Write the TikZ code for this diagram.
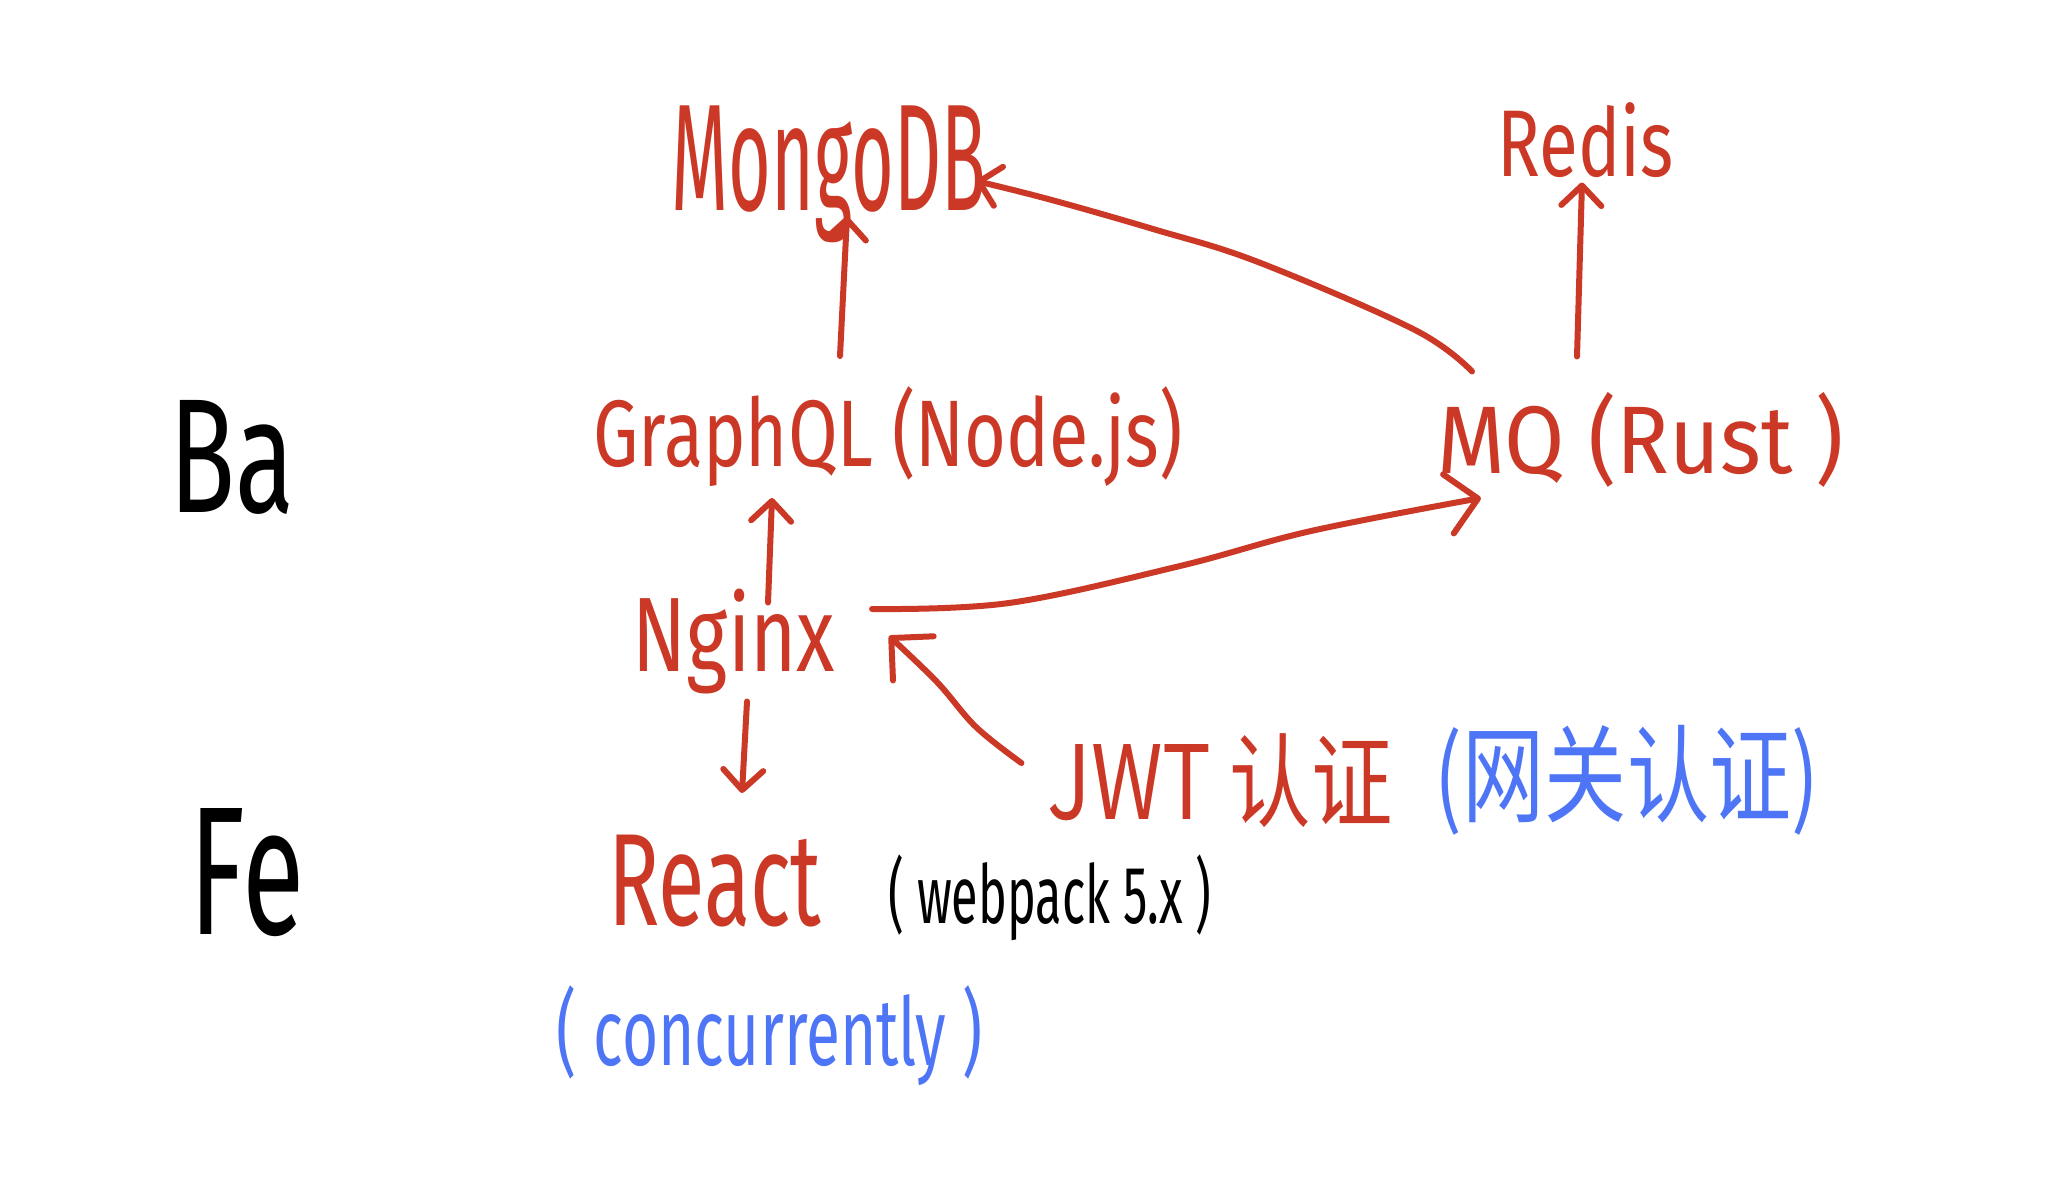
\documentclass[tikz,border=0pt]{standalone}
\usepackage{fontspec}
\usepackage{graphicx}
\setmainfont{Fira Sans}
\newfontfamily\cjk{Noto Sans CJK SC}
\usetikzlibrary{arrows.meta,calc}
\definecolor{hred}{HTML}{CB3826}
\definecolor{hblue}{HTML}{4D75F6}
\newcommand{\fitbox}[3]{\resizebox*{#1pt}{#2pt}{#3}}
\begin{document}
\begin{tikzpicture}[x=1pt,y=-1pt,
  lbl/.style={inner sep=0pt, outer sep=0pt, anchor=center},
  arr/.style={hred, line width=6pt, line cap=round, line join=round,
    -{Straight Barb[length=20pt,width=40pt,round]}},
  bigarr/.style={hred, line width=6pt, line cap=round, line join=round,
    -{Straight Barb[length=30pt,width=60pt,round]}},
]
\useasboundingbox (0,0) rectangle (2055,1191);
\fill[white] (0,0) rectangle (2055,1191);

% side labels
\node[lbl, black] (ba) at (232,457) {\fitbox{125}{114}{Ba}};
\node[lbl, black] (fe) at (247,873) {\fitbox{114}{128}{Fe}};

% red nodes
\node[lbl, hred] (mongo) at (829,174) {\fitbox{314}{137}{MongoDB}};
\node[lbl, hred] (redis) at (1586,140) {\fitbox{176}{75}{Redis}};
\node[lbl, hred] (gql) at (888,437) {\fitbox{589}{100}{GraphQL (Node.js)}};
\node[lbl, hred] (mq) at (1641,440) {\fitbox{406}{95}{MQ (Rust )}};
\node[lbl, hred] (nginx) at (734,642) {\fitbox{202}{105}{Nginx}};
\node[lbl, hred] (jwt) at (1220,781) {\fitbox{345}{94}{\cjk JWT 认证}};
\node[lbl, hblue] (gw) at (1627,780) {\fitbox{384}{110}{\cjk (网关认证)}};
\node[lbl, hred] (react) at (715,881) {\fitbox{213}{92}{React}};
\node[lbl, black] (wp) at (1050,898) {\fitbox{323}{86}{( webpack 5.x )}};
\node[lbl, hblue] (conc) at (770,1036) {\fitbox{426}{100}{( concurrently )}};

% GraphQL -> MongoDB
\draw[arr] ($(gql.north)+(-48,-31)$) -- ($(mongo.south)+(18,-26)$);

% MQ -> MongoDB
\coordinate (m1) at ($(mq.north)+(-169,-21)$);
\coordinate (m2) at (1415,330);
\coordinate (m3) at (1258,262);
\coordinate (m4) at (1153,229);
\coordinate (m5) at (1048,199);
\coordinate (m6) at ($(mongo.east)+(-10,7)$);
\draw[arr] plot[smooth, tension=0.6] coordinates {(m1) (m2) (m3) (m4) (m5) (m6)};

% MQ -> Redis
\draw[arr] ($(mq.north)+(-64,-36)$) -- ($(redis.south)+(-4,5)$);

% Nginx -> GraphQL
\draw[arr] ($(nginx.north)+(34,13)$) -- ($(gql.south)+(-116,11)$);

% Nginx -> MQ
\coordinate (n1) at ($(nginx.east)+(37,-33)$);
\coordinate (n2) at (1009,603);
\coordinate (n3) at (1180,566);
\coordinate (n4) at (1311,531);
\coordinate (n5) at ($(mq.west)+(43,58)$);
\draw[bigarr] plot[smooth, tension=0.6] coordinates {(n1) (n2) (n3) (n4) (n5)};

% Nginx -> React
\draw[arr] ($(nginx.south)+(13,7)$) -- ($(react.north)+(27,-42)$);

% JWT -> Nginx
\coordinate (j1) at ($(jwt.west)+(-26,-18)$);
\coordinate (j2) at (976,727);
\coordinate (j3) at (937,682);
\coordinate (j4) at ($(nginx.east)+(54,-6)$);
\draw[bigarr] plot[smooth, tension=0.6] coordinates {(j1) (j2) (j3) (j4)};
\end{tikzpicture}
\end{document}
